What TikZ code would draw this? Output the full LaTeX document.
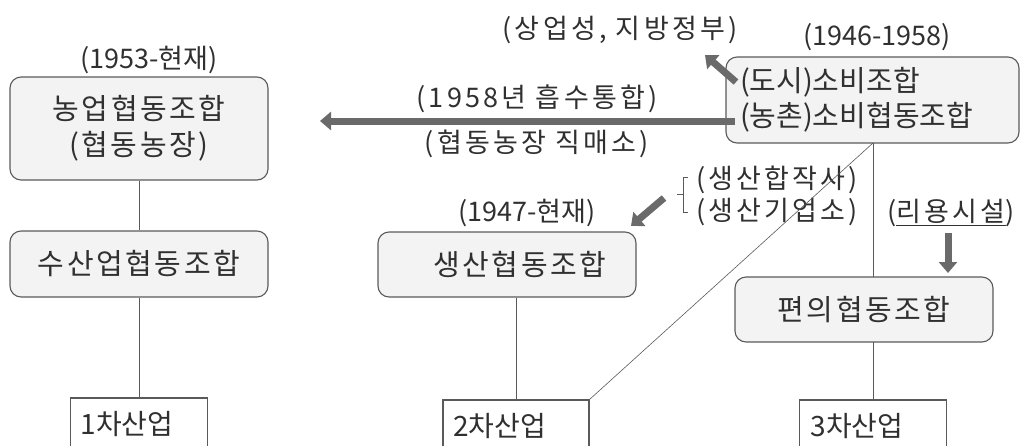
\documentclass[tikz,border=0pt]{standalone}
\usepackage{fontspec}
\setmainfont{Noto Sans CJK KR}
\newfontfamily\wideko[LetterSpace=12]{Noto Sans CJK KR}
\newfontfamily\midko[LetterSpace=9]{Noto Sans CJK KR}
\usetikzlibrary{arrows.meta}
\definecolor{boxline}{HTML}{5A5A5A}
\definecolor{boxfill}{HTML}{F3F3F3}
\definecolor{txt}{HTML}{303030}
\definecolor{arr}{HTML}{6A6A6A}
\begin{document}
\begin{tikzpicture}[x=1pt,y=-1pt,
  coop/.style={draw=boxline,fill=boxfill,line width=1.1pt,rounded corners=11pt,
    minimum width=258pt,inner sep=0pt,align=center,text=txt,font=\midko\fontsize{29}{36}\selectfont},
  ind/.style={draw=boxline,fill=white,line width=1.1pt,minimum height=52pt,
    inner sep=0pt,text=txt,align=left,font=\fontsize{28}{30}\selectfont},
  lbl/.style={text=txt,inner sep=0pt,font=\fontsize{27}{32}\selectfont},
  wlbl/.style={lbl,font=\wideko\fontsize{27}{32}\selectfont},
  link/.style={draw=boxline,line width=0.8pt},
  fat/.style={draw=arr,line width=7pt,-{Triangle[length=11pt,width=18pt]}}
]
\useasboundingbox (0,0) rectangle (1021,445);
% nodes
\node[coop,minimum height=103pt] (A) at (139,128.5) {농업협동조합\\(협동농장)};
\node[coop,minimum height=66pt] (B) at (139,264) {수산업협동조합};
\node[ind,minimum width=137pt,text width=117pt] (P1) at (139,424) {1차산업};
\node[coop,minimum height=65pt] (C) at (507,264.5) {\hspace*{26pt}생산협동조합};
\node[ind,minimum width=146pt,text width=126pt] (P2) at (516,426) {2차산업};
\node[coop,minimum width=293pt,minimum height=86pt,text width=265pt,align=left,
  font=\fontsize{29}{35}\selectfont] (D) at (872.5,100)
  {(도시)소비조합\\(농촌)소비협동조합};
\node[coop,minimum height=65pt] (E) at (864,309.5) {편의협동조합};
\node[ind,minimum width=147pt,text width=125pt] (P3) at (873,426) {3차산업};
% labels
\node[lbl] (L1) at (149,60) {(1953-현재)};
\node[lbl] (L2) at (527,213) {(1947-현재)};
\node[lbl] (L3) at (877,37) {(1946-1958)};
\node[wlbl] (L4) at (620,30) {(상업성, 지방정부)};
\node[wlbl] (L5) at (537,99) {(1958년 흡수통합)};
\node[wlbl] (L6) at (537,144) {(협동농장 직매소)};
\node[wlbl,anchor=west,align=left] (L7) at (696,196) {(생산합작사)\\(생산기업소)};
\node[wlbl] (L8) at (951,213) {(\underline{리용시설})};
% connectors
\draw[link] (A.south) -- (B.north);
\draw[link] (B.south) -- (P1.north);
\draw[link] (C.south -| P2.north) -- (P2.north);
\coordinate (Ds) at (873,143);
\coordinate (Et) at (873,277);
\coordinate (Eb) at (873,342);
\draw[link] (Ds) -- (Et);
\draw[link] (Eb) -- (P3.north);
\draw[draw=boxline,line width=0.6pt] (Ds) -- (P2.north east);
% bracket
\draw[draw=boxline,line width=0.9pt] (688,177) -- (683,177) -- (683,212) -- (688,212);
\draw[draw=boxline,line width=0.9pt] (683,194) -- (677,194);
% fat arrows
\coordinate (h1) at (735,121);
\coordinate (h2) at (320,121);
\draw[fat] (h1) -- (h2);
\coordinate (u1) at (736,82);
\coordinate (u2) at (705,55);
\draw[fat] (u1) -- (u2);
\coordinate (d1) at (664,198);
\coordinate (d2) at (631,226);
\draw[fat] (d1) -- (d2);
\coordinate (v1) at (948,233);
\coordinate (v2) at (948,273);
\draw[fat] (v1) -- (v2);
\end{tikzpicture}
\end{document}
